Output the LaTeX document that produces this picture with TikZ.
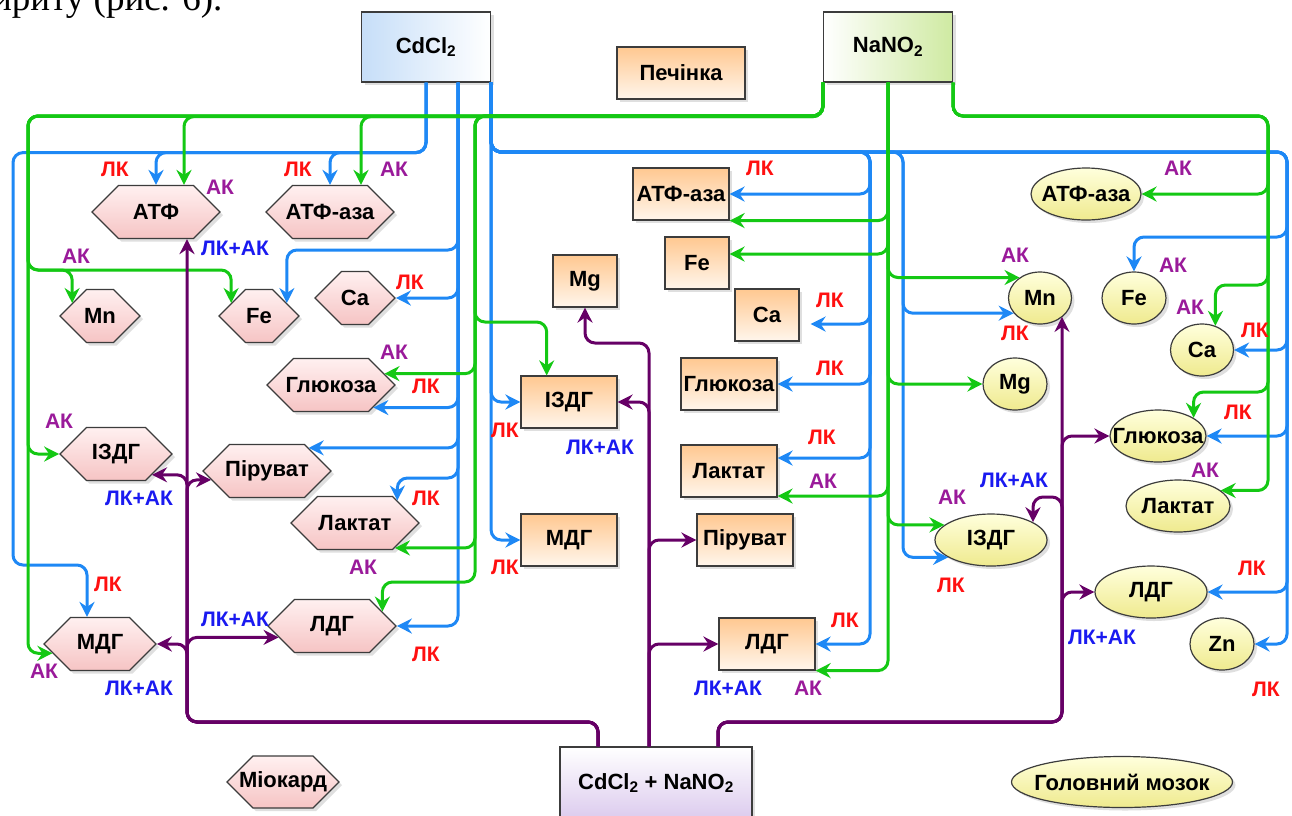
\documentclass[tikz,border=0pt]{standalone}
\usepackage{fontspec}
\setmainfont{Liberation Sans}
\newfontfamily\docserif{Liberation Serif}
\usepackage{tikz}
\usetikzlibrary{arrows.meta,positioning,shapes.geometric,shapes.symbols,shadows}
\definecolor{cdblue}{HTML}{1E88F5}
\definecolor{nagreen}{HTML}{14C814}
\definecolor{mixpurple}{HTML}{660066}
\definecolor{lkred}{HTML}{FF1010}
\definecolor{akpurple}{HTML}{9A1A9A}
\definecolor{lkakblue}{HTML}{1A1AF0}
\definecolor{edge}{HTML}{3C3C3C}
\definecolor{pinktop}{HTML}{FFF0F0}
\definecolor{pinkbot}{HTML}{F6C4C4}
\definecolor{orangetop}{HTML}{FFC891}
\definecolor{orangebot}{HTML}{FFF6EC}
\definecolor{yellowtop}{HTML}{FFFFDC}
\definecolor{yellowbot}{HTML}{EFEA8E}
\definecolor{cdfill}{HTML}{C6DEF8}
\definecolor{nafill}{HTML}{CFEAA2}
\definecolor{mixfill}{HTML}{DCCBEE}
\tikzset{
  organ/.style={draw=edge, line width=1.2pt, font=\fontsize{22}{24}\selectfont\bfseries,
                drop shadow={opacity=.25, shadow xshift=3pt, shadow yshift=-3pt}},
  heart/.style={organ, signal, signal to=east and west, signal pointer angle=90,
                top color=pinktop, bottom color=pinkbot, minimum height=53pt,
                inner xsep=-14pt, inner ysep=0pt},
  liver/.style={organ, rectangle, top color=orangetop, bottom color=orangebot,
                minimum height=52pt, inner sep=1pt},
  brain/.style={organ, ellipse, top color=yellowtop, bottom color=yellowbot,
                minimum height=52pt, inner xsep=-13pt, inner ysep=0pt},
  agent/.style={organ, rectangle, minimum width=129pt, minimum height=70pt},
  wire/.style={line width=3pt, rounded corners=10pt, -{Stealth[length=15pt,width=15pt,inset=5pt]}},
  cdw/.style={wire, draw=cdblue},
  naw/.style={wire, draw=nagreen},
  mixw/.style={wire, draw=mixpurple},
  tag/.style={font=\fontsize{21}{23}\selectfont\bfseries, inner sep=1pt},
  lk/.style={tag, text=lkred},
  ak/.style={tag, text=akpurple},
  lkak/.style={tag, text=lkakblue}
}

\begin{document}
\begin{tikzpicture}[x=1pt, y=-1pt]
  \fill[white] (0,0) rectangle (1292,815);
  \useasboundingbox (0,0) rectangle (1292,815);
  \node[anchor=base west, inner sep=0pt, font=\docserif\fontsize{37}{37}\selectfont] (cap) at (-8,10) {ириту (рис. 6).};

  % sources and legend
  \node[agent, left color=cdfill, right color=white] (cd) at (426,47) {CdCl\textsubscript{2}};
  \node[agent, left color=white, right color=nafill] (ns) at (888,47) {NaNO\textsubscript{2}};
  \node[agent, top color=white, bottom color=mixfill, minimum width=192pt, minimum height=72pt] (cn) at (656,783) {CdCl\textsubscript{2} + NaNO\textsubscript{2}};
  \node[liver, minimum width=128pt] (liv) at (681,73) {Печінка};
  \node[heart, minimum width=112pt, minimum height=52pt] (myo) at (283,782) {Міокард};
  \node[brain, minimum width=221pt, minimum height=51pt] (brn) at (1122,782) {Головний мозок};

  % myocardium
  \node[heart, minimum width=128pt] (m1atf) at (156,212) {АТФ};
  \node[heart, minimum width=128pt] (m1aza) at (330,212) {АТФ-аза};
  \node[heart, minimum width=80pt] (m1mn) at (100,316) {Mn};
  \node[heart, minimum width=80pt] (m1fe) at (259,316) {Fe};
  \node[heart, minimum width=80pt] (m1ca) at (355,298) {Ca};
  \node[heart, minimum width=128pt] (m1glu) at (331,385) {Глюкоза};
  \node[heart, minimum width=112pt] (m1izdg) at (116,454) {ІЗДГ};
  \node[heart, minimum width=128pt] (m1pir) at (267,471) {Піруват};
  \node[heart, minimum width=128pt] (m1lak) at (355,523) {Лактат};
  \node[heart, minimum width=128pt] (m1ldg) at (332,626) {ЛДГ};
  \node[heart, minimum width=112pt] (m1mdg) at (100,644) {МДГ};

  % liver
  \node[liver, minimum width=96pt] (m2atf) at (681,194) {АТФ-аза};
  \node[liver, minimum width=64pt] (m2fe) at (697,263) {Fe};
  \node[liver, minimum width=64pt] (m2mg) at (585,281) {Mg};
  \node[liver, minimum width=64pt] (m2ca) at (767,315) {Ca};
  \node[liver, minimum width=96pt] (m2glu) at (729,384) {Глюкоза};
  \node[liver, minimum width=96pt] (m2izdg) at (569,402) {ІЗДГ};
  \node[liver, minimum width=96pt] (m2lak) at (729,471) {Лактат};
  \node[liver, minimum width=96pt] (m2mdg) at (569,540) {МДГ};
  \node[liver, minimum width=96pt] (m2pir) at (745,540) {Піруват};
  \node[liver, minimum width=96pt] (m2ldg) at (767,644) {ЛДГ};

  % brain
  \node[brain, minimum width=110pt] (m3atf) at (1086,194) {АТФ-аза};
  \node[brain, minimum width=63pt] (m3mn) at (1040,298) {Mn};
  \node[brain, minimum width=64pt] (m3fe) at (1134,298) {Fe};
  \node[brain, minimum width=63pt] (m3ca) at (1202,350) {Ca};
  \node[brain, minimum width=64pt] (m3mg) at (1015,384) {Mg};
  \node[brain, minimum width=96pt] (m3glu) at (1158,436) {Глюкоза};
  \node[brain, minimum width=104pt] (m3lak) at (1178,506) {Лактат};
  \node[brain, minimum width=112pt] (m3izdg) at (991,540) {ІЗДГ};
  \node[brain, minimum width=112pt] (m3ldg) at (1151,592) {ЛДГ};
  \node[brain, minimum width=64pt] (m3zn) at (1222,644) {Zn};

  % bends and levels
  \coordinate (bL) at (13,565);
  \coordinate (tb1) at (870,152);
  \coordinate (tb2) at (903,152);
  \coordinate (tb3) at (1287,152);
  \coordinate (g1) at (28,116);
  \coordinate (g2) at (475,116);
  \coordinate (g3) at (1268,116);
  \coordinate (p1) at (187,722);
  \coordinate (p3) at (1062,722);
  \coordinate (yFe) at (0,250);
  \coordinate (yLak) at (0,478);
  \coordinate (yFeR) at (0,237);
  \coordinate (yMnL) at (0,270);
  \coordinate (yIz) at (0,322);
  \coordinate (yLdg) at (0,582);
  \coordinate (yCaR) at (0,285);
  \coordinate (yGluR) at (0,392);
  \coordinate (yMg) at (0,343);
  \coordinate (yIzR) at (0,497);

  % CdCl2
  \draw[cdw] (cd.south) -- ++(0,70) -| (m1atf.north);
  \draw[cdw] (cd.south) -- ++(0,70) -| (m1aza.north);
  \draw[cdw] (cd.south) -- ++(0,70) -| (bL) -| ([xshift=-13pt]m1mdg.north);
  \draw[cdw] ([xshift=32pt]cd.south) |- (m1fe.25 |- yFe) -- (m1fe.25);
  \draw[cdw] ([xshift=32pt]cd.south) |- (m1ca.east);
  \draw[cdw] ([xshift=32pt]cd.south) |- (m1glu.-28);
  \draw[cdw] ([xshift=32pt]cd.south) |- (m1pir.29);
  \draw[cdw] ([xshift=32pt]cd.south) |- (m1lak.28 |- yLak) -- (m1lak.28);
  \draw[cdw] ([xshift=32pt]cd.south) |- (m1ldg.east);
  \draw[cdw] (cd.south east) |- (m2izdg.west);
  \draw[cdw] (cd.south east) |- (m2mdg.west);
  \draw[cdw] (cd.south east) |- (tb1) |- (m2atf.east);
  \draw[cdw] (cd.south east) |- (tb1) |- ([xshift=11pt,yshift=-9pt]m2ca.east);
  \draw[cdw] (cd.south east) |- (tb1) |- (m2glu.east);
  \draw[cdw] (cd.south east) |- (tb1) |- ([yshift=13pt]m2lak.east);
  \draw[cdw] (cd.south east) |- (tb1) |- (m2ldg.east);
  \draw[cdw] (cd.south east) |- (tb2) |- (m3mn.-150);
  \draw[cdw] (cd.south east) |- (tb2) |- (m3izdg.-158);
  \draw[cdw] (cd.south east) |- (tb3) |- (m3fe.north |- yFeR) -- (m3fe.north);
  \draw[cdw] (cd.south east) |- (tb3) |- (m3ca.east);
  \draw[cdw] (cd.south east) |- (tb3) |- (m3glu.east);
  \draw[cdw] (cd.south east) |- (tb3) |- (m3ldg.east);
  \draw[cdw] (cd.south east) |- (tb3) |- (m3zn.east);

  % NaNO2
  \draw[naw] (ns.south west) -- ++(0,34) -| ([xshift=28pt]m1atf.north);
  \draw[naw] (ns.south west) -- ++(0,34) -| ([xshift=31pt]m1aza.north);
  \draw[naw] (ns.south west) |- (g1) |- (m1mn.155 |- yMnL) -- (m1mn.155);
  \draw[naw] (ns.south west) |- (g1) |- (m1fe.155 |- yMnL) -- (m1fe.155);
  \draw[naw] (ns.south west) |- (g1) |- (m1izdg.west);
  \draw[naw] (ns.south west) |- (g1) |- (m1mdg.-169);
  \draw[naw] (ns.south west) |- (g2) |- (m1glu.12);
  \draw[naw] (ns.south west) |- (g2) |- (m2izdg.130 |- yIz) -- (m2izdg.130);
  \draw[naw] (ns.south west) |- (g2) |- (m1lak.-32);
  \draw[naw] (ns.south west) |- (g2) |- (m1ldg.16 |- yLdg) -- (m1ldg.16);
  \draw[naw] (ns.south) |- (m2atf.south east);
  \draw[naw] (ns.south) |- ([yshift=9pt]m2fe.east);
  \draw[naw] (ns.south) |- (m3mn.135);
  \draw[naw] (ns.south) |- (m3mg.west);
  \draw[naw] (ns.south) |- ([yshift=-25pt]m2lak.east);
  \draw[naw] (ns.south) |- (m3izdg.162);
  \draw[naw] (ns.south) |- (m2ldg.south east);
  \draw[naw] (ns.south east) |- (g3) |- (m3atf.east);
  \draw[naw] (ns.south east) |- (g3) |- (m3ca.61 |- yCaR) -- (m3ca.61);
  \draw[naw] (ns.south east) |- (g3) |- (m3glu.27 |- yGluR) -- (m3glu.27);
  \draw[naw] (ns.south east) |- (g3) |- (m3lak.20);

  % CdCl2 + NaNO2
  \draw[mixw] ([xshift=-58pt]cn.north) |- (p1) -- ([xshift=31pt]m1atf.south);
  \draw[mixw] ([xshift=-58pt]cn.north) |- (p1) |- (m1izdg.-30);
  \draw[mixw] ([xshift=-58pt]cn.north) |- (p1) |- (m1pir.-171);
  \draw[mixw] ([xshift=-58pt]cn.north) |- (p1) |- (m1mdg.east);
  \draw[mixw] ([xshift=-58pt]cn.north) |- (p1) |- (m1ldg.-168);
  \draw[mixw] ([xshift=-7pt]cn.north) |- (m2mg.south |- yMg) -- (m2mg.south);
  \draw[mixw] ([xshift=-7pt]cn.north) |- (m2izdg.east);
  \draw[mixw] ([xshift=-7pt]cn.north) |- (m2pir.west);
  \draw[mixw] ([xshift=-7pt]cn.north) |- (m2ldg.west);
  \draw[mixw] ([xshift=62pt]cn.north) |- (p3) -- (p3 |- m3mn.-40);
  \draw[mixw] ([xshift=62pt]cn.north) |- (p3) |- (m3glu.west);
  \draw[mixw] ([xshift=62pt]cn.north) |- (p3) |- (m3izdg.23 |- yIzR) -- (m3izdg.23);
  \draw[mixw] ([xshift=62pt]cn.north) |- (p3) |- (m3ldg.west);

  % effect labels
  \node[lk] (t1) at (115,169) {ЛК};
  \node[ak] (t2) at (220,187) {АК};
  \node[lk] (t3) at (298,169) {ЛК};
  \node[ak] (t4) at (394,169) {АК};
  \node[lkak] (t5) at (235,248) {ЛК+АК};
  \node[ak] (t6) at (76,256) {АК};
  \node[lk] (t7) at (410,282) {ЛК};
  \node[ak] (t8) at (394,352) {АК};
  \node[lk] (t9) at (426,386) {ЛК};
  \node[ak] (t10) at (59,421) {АК};
  \node[lkak] (t11) at (139,498) {ЛК+АК};
  \node[lk] (t12) at (426,498) {ЛК};
  \node[ak] (t13) at (363,567) {АК};
  \node[lk] (t14) at (108,584) {ЛК};
  \node[lkak] (t15) at (235,619) {ЛК+АК};
  \node[lk] (t16) at (426,654) {ЛК};
  \node[ak] (t17) at (44,671) {АК};
  \node[lkak] (t18) at (139,688) {ЛК+АК};
  \node[lk] (t19) at (760,168) {ЛК};
  \node[lk] (t20) at (830,300) {ЛК};
  \node[lk] (t21) at (830,368) {ЛК};
  \node[lk] (t22) at (505,430) {ЛК};
  \node[lkak] (t23) at (600,447) {ЛК+АК};
  \node[lk] (t24) at (822,437) {ЛК};
  \node[ak] (t25) at (823,481) {АК};
  \node[lk] (t26) at (505,567) {ЛК};
  \node[lk] (t27) at (845,620) {ЛК};
  \node[lkak] (t28) at (728,688) {ЛК+АК};
  \node[ak] (t29) at (808,688) {АК};
  \node[ak] (t30) at (1178,168) {АК};
  \node[ak] (t31) at (1015,255) {АК};
  \node[ak] (t32) at (1173,265) {АК};
  \node[lk] (t33) at (1015,333) {ЛК};
  \node[ak] (t34) at (1190,307) {АК};
  \node[lk] (t35) at (1255,330) {ЛК};
  \node[lk] (t36) at (1238,412) {ЛК};
  \node[ak] (t37) at (1205,470) {АК};
  \node[lkak] (t38) at (1014,480) {ЛК+АК};
  \node[ak] (t39) at (952,497) {АК};
  \node[lk] (t40) at (951,585) {ЛК};
  \node[lk] (t41) at (1252,568) {ЛК};
  \node[lkak] (t42) at (1102,637) {ЛК+АК};
  \node[lk] (t43) at (1266,689) {ЛК};
\end{tikzpicture}
\end{document}
